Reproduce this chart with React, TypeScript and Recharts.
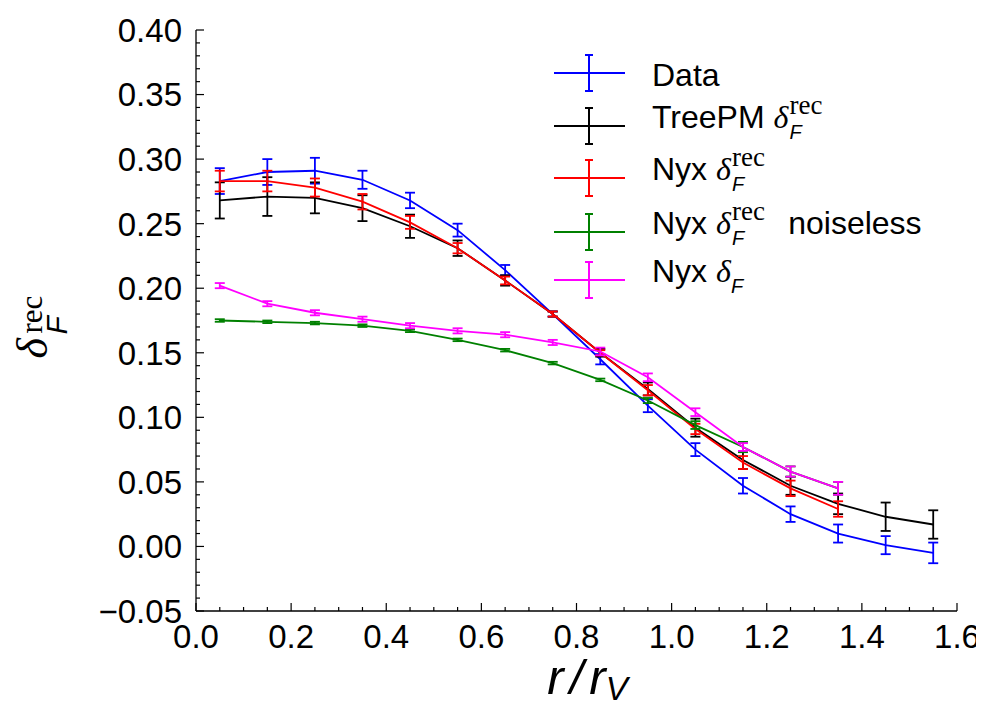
import React from "react";
import { LineChart, Line, XAxis, YAxis, ErrorBar, Legend } from "recharts";

// radial bins r / r_V
const R = [0.05, 0.15, 0.25, 0.35, 0.45, 0.55, 0.65, 0.75, 0.85, 0.95, 1.05, 1.15, 1.25, 1.35, 1.45, 1.55];

const DATA_Y = [0.283, 0.29, 0.291, 0.284, 0.268, 0.245, 0.214, 0.18, 0.145, 0.109, 0.075, 0.047, 0.025, 0.01, 0.001, -0.005];
const DATA_ERR = [0.01, 0.01, 0.01, 0.007, 0.006, 0.005, 0.004, 0.002, 0.004, 0.005, 0.005, 0.006, 0.006, 0.007, 0.007, 0.008];

const TREEPM_Y = [0.268, 0.271, 0.27, 0.262, 0.248, 0.231, 0.206, 0.18, 0.15, 0.122, 0.092, 0.067, 0.047, 0.033, 0.023, 0.017];
const TREEPM_ERR = [0.014, 0.015, 0.012, 0.01, 0.009, 0.006, 0.004, 0.002, 0.003, 0.005, 0.007, 0.007, 0.007, 0.008, 0.011, 0.011];

const NYX_REC_Y = [0.283, 0.283, 0.278, 0.267, 0.251, 0.231, 0.206, 0.18, 0.15, 0.121, 0.091, 0.065, 0.045, 0.029];
const NYX_REC_ERR = [0.008, 0.008, 0.007, 0.006, 0.005, 0.004, 0.003, 0.002, 0.002, 0.004, 0.004, 0.005, 0.006, 0.006];

const NOISELESS_Y = [0.175, 0.174, 0.173, 0.171, 0.167, 0.16, 0.152, 0.142, 0.129, 0.113, 0.094, 0.077, 0.058, 0.045];
const NOISELESS_ERR = [0.001, 0.001, 0.001, 0.001, 0.001, 0.001, 0.001, 0.001, 0.001, 0.002, 0.003, 0.004, 0.004, 0.005];

const NYX_F_Y = [0.202, 0.188, 0.181, 0.176, 0.171, 0.167, 0.164, 0.158, 0.151, 0.131, 0.104, 0.077, 0.058, 0.045];
const NYX_F_ERR = [0.002, 0.002, 0.002, 0.002, 0.002, 0.002, 0.002, 0.002, 0.003, 0.003, 0.003, 0.003, 0.004, 0.005];

const X_MAJOR_STEP = 0.2;
const Y_MAJOR_STEP = 0.05;

// tick positions incl. minor ticks (labels only on the majors)
const X_TICKS = Array.from({ length: 33 }, (_, i) => +(i * 0.05).toFixed(2));
const Y_TICKS = Array.from({ length: 46 }, (_, i) => +(-0.05 + i * 0.01).toFixed(2));

const toRows = (ys: number[], errs: number[]) => ys.map((v, i) => ({ r: R[i], v, e: errs[i] }));

const SERIES = [
  { key: "data", name: "Data", color: "#0000ff", rows: toRows(DATA_Y, DATA_ERR), pre: "Data", delta: false, rec: false, post: "" },
  { key: "treepm", name: "TreePM", color: "#000000", rows: toRows(TREEPM_Y, TREEPM_ERR), pre: "TreePM", delta: true, rec: true, post: "" },
  { key: "nyx", name: "Nyx", color: "#ff0000", rows: toRows(NYX_REC_Y, NYX_REC_ERR), pre: "Nyx", delta: true, rec: true, post: "" },
  { key: "noiseless", name: "Nyx noiseless", color: "#008000", rows: toRows(NOISELESS_Y, NOISELESS_ERR), pre: "Nyx", delta: true, rec: true, post: "noiseless" },
  { key: "nyxf", name: "Nyx dF", color: "#ff00ff", rows: toRows(NYX_F_Y, NYX_F_ERR), pre: "Nyx", delta: true, rec: false, post: "" },
];

const SANS = "'Liberation Sans', Arial, Helvetica, sans-serif";
const SERIF = "'Liberation Serif', 'DejaVu Serif', serif";
const MAJOR_LEN = 8;
const MINOR_LEN = 4;
const TICK_FONT = 33;

const isMajor = (v: number, step: number) => Math.abs(Math.round(v / step) * step - v) < 1e-6;
const fmtY = (v: number) => (v < 0 ? "\u2212" + Math.abs(v).toFixed(2) : v.toFixed(2));

function BottomTick({ x, y, payload }: any) {
  const major = isMajor(payload.value, X_MAJOR_STEP);
  return (
    <g>
      <line x1={x} x2={x} y1={y} y2={y - (major ? MAJOR_LEN : MINOR_LEN)} stroke="#000" strokeWidth={1.2} />
      {major && (
        <text x={x} y={y + 37} textAnchor="middle" fontSize={TICK_FONT} fontFamily={SANS} fill="#000">
          {payload.value.toFixed(1)}
        </text>
      )}
    </g>
  );
}

function TopTick({ x, y, payload }: any) {
  const major = isMajor(payload.value, X_MAJOR_STEP);
  return <line x1={x} x2={x} y1={y} y2={y + (major ? MAJOR_LEN : MINOR_LEN)} stroke="#000" strokeWidth={1.2} />;
}

function LeftTick({ x, y, payload }: any) {
  const major = isMajor(payload.value, Y_MAJOR_STEP);
  return (
    <g>
      <line x1={x} x2={x + (major ? MAJOR_LEN : MINOR_LEN)} y1={y} y2={y} stroke="#000" strokeWidth={1.2} />
      {major && (
        <text x={x - 14} y={y} dy="0.36em" textAnchor="end" fontSize={TICK_FONT} fontFamily={SANS} fill="#000">
          {fmtY(payload.value)}
        </text>
      )}
    </g>
  );
}

function RightTick({ x, y, payload }: any) {
  const major = isMajor(payload.value, Y_MAJOR_STEP);
  return <line x1={x} x2={x - (major ? MAJOR_LEN : MINOR_LEN)} y1={y} y2={y} stroke="#000" strokeWidth={1.2} />;
}

function YLabel({ viewBox }: any) {
  const bx = 47;
  const by = viewBox.y + viewBox.height / 2 + 38;
  return (
    <g transform={`translate(${bx},${by}) rotate(-90)`}>
      <text x={0} y={0} fontSize={44} fontFamily={SERIF} fontStyle="italic" fill="#000">δ</text>
      <text x={25} y={-5} fontSize={31} fontFamily={SERIF} fill="#000">rec</text>
      <text x={24} y={20} fontSize={30} fontFamily={SANS} fontStyle="italic" fill="#000">F</text>
    </g>
  );
}

function XLabel({ viewBox }: any) {
  const cx = viewBox.x + viewBox.width / 2 + 11;
  return (
    <text x={cx} y={694} textAnchor="middle" fontSize={49} fontFamily={SANS} fontStyle="italic" fill="#000">
      r<tspan dx={6}>/</tspan>
      <tspan dx={6}>r</tspan>
      <tspan fontSize={33} dy={6}>V</tspan>
    </text>
  );
}

// handle centre and text baseline of each legend row
const ROW_Y = [73, 126, 178, 232, 280];
const ROW_BASE = [86, 128, 180, 234, 282];

function LegendBox() {
  const top = 40;
  return (
    <svg width={420} height={270} style={{ display: "block" }}>
      {SERIES.map((s, i) => {
        const cy = ROW_Y[i] - top;
        const by = ROW_BASE[i] - top;
        return (
          <g key={s.key}>
            <line x1={0} x2={71} y1={cy} y2={cy} stroke={s.color} strokeWidth={2} />
            <line x1={35} x2={35} y1={cy - 18} y2={cy + 18} stroke={s.color} strokeWidth={2} />
            <line x1={31} x2={39} y1={cy - 18} y2={cy - 18} stroke={s.color} strokeWidth={2} />
            <line x1={31} x2={39} y1={cy + 18} y2={cy + 18} stroke={s.color} strokeWidth={2} />
            <text x={98} y={by} fontSize={32} fontFamily={SANS} fill="#000">
              {s.pre}
              {s.delta && (
                <tspan fontFamily={SERIF} fontStyle="italic" dx={9}>δ</tspan>
              )}
              {s.rec && (
                <tspan fontFamily={SERIF} fontSize={27} dx={1} dy={-14}>rec</tspan>
              )}
              {s.delta && (
                <tspan fontFamily={SANS} fontStyle="italic" fontSize={20} dx={s.rec ? -33 : 0} dy={s.rec ? 25 : 11}>F</tspan>
              )}
              {s.post && (
                <tspan dx={44} dy={-11}>{s.post}</tspan>
              )}
            </text>
          </g>
        );
      })}
    </svg>
  );
}

export default function App() {
  return (
    <div style={{ margin: -8, width: 984, height: 711, background: "#fff" }}>
      <LineChart width={984} height={711} margin={{ top: 30, right: 27, bottom: 0, left: 0 }}>
        <XAxis
          xAxisId="main"
          dataKey="r"
          type="number"
          domain={[0, 1.6]}
          allowDataOverflow
          ticks={X_TICKS}
          interval={0}
          tickSize={0}
          tickMargin={0}
          tickLine={false}
          tick={<BottomTick />}
          height={100}
          stroke="#000"
          strokeWidth={1.3}
          label={<XLabel />}
        />
        <XAxis
          xAxisId="top"
          orientation="top"
          dataKey="r"
          type="number"
          domain={[0, 1.6]}
          allowDataOverflow
          ticks={X_TICKS}
          interval={0}
          tickSize={0}
          tickMargin={0}
          tickLine={false}
          tick={<TopTick />}
          height={0}
          stroke="#000"
          strokeWidth={1.3}
        />
        <YAxis
          yAxisId="main"
          type="number"
          domain={[-0.05, 0.4]}
          allowDataOverflow
          ticks={Y_TICKS}
          interval={0}
          tickSize={0}
          tickMargin={0}
          tickLine={false}
          tick={<LeftTick />}
          width={196}
          stroke="#000"
          strokeWidth={1.3}
          label={<YLabel />}
        />
        <YAxis
          yAxisId="right"
          orientation="right"
          type="number"
          domain={[-0.05, 0.4]}
          allowDataOverflow
          ticks={Y_TICKS}
          interval={0}
          tickSize={0}
          tickMargin={0}
          tickLine={false}
          tick={<RightTick />}
          width={0}
          stroke="#000"
          strokeWidth={1.3}
        />
        <Legend
          layout="vertical"
          align="center"
          verticalAlign="middle"
          wrapperStyle={{ left: 554, top: 40, width: 420 }}
          content={<LegendBox />}
        />
        {SERIES.map((s) => (
          <Line
            key={s.key}
            xAxisId="main"
            yAxisId="main"
            data={s.rows}
            dataKey="v"
            name={s.name}
            type="linear"
            stroke={s.color}
            strokeWidth={1.8}
            dot={false}
            activeDot={false}
            isAnimationActive={false}
          >
            <ErrorBar dataKey="e" direction="y" width={5} stroke={s.color} strokeWidth={1.8} isAnimationActive={false} />
          </Line>
        ))}
      </LineChart>
    </div>
  );
}
